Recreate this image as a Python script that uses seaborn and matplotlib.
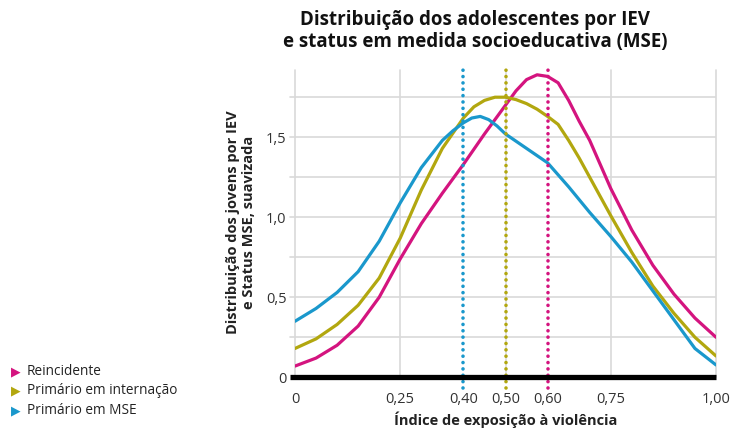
import matplotlib
matplotlib.use("Agg")
import matplotlib.pyplot as plt
import seaborn as sns
import pandas as pd

# ---- data ----
series_names = ["Reincidente", "Primário em internação", "Primário em MSE"]
colors = ["#D4147F", "#B2A70F", "#1A98CC"]

x_reinc = [0, 0.05, 0.10, 0.15, 0.20, 0.25, 0.30, 0.35, 0.40, 0.45, 0.50, 0.525, 0.55,
           0.575, 0.60, 0.625, 0.65, 0.675, 0.70, 0.725, 0.75, 0.775, 0.80, 0.85,
           0.90, 0.95, 1.00]
y_reinc = [0.07, 0.12, 0.20, 0.32, 0.50, 0.74, 0.96, 1.15, 1.33, 1.52, 1.70, 1.79, 1.86,
           1.89, 1.88, 1.84, 1.73, 1.60, 1.48, 1.33, 1.18, 1.05, 0.92, 0.70,
           0.52, 0.37, 0.25]

x_intern = [0, 0.05, 0.10, 0.15, 0.20, 0.25, 0.30, 0.35, 0.40, 0.425, 0.45, 0.475, 0.50,
            0.525, 0.55, 0.575, 0.60, 0.625, 0.65, 0.675, 0.70, 0.75, 0.80, 0.85,
            0.90, 0.95, 1.00]
y_intern = [0.18, 0.24, 0.33, 0.45, 0.62, 0.87, 1.17, 1.43, 1.62, 1.69, 1.73, 1.75, 1.75,
            1.735, 1.71, 1.675, 1.63, 1.58, 1.48, 1.37, 1.25, 1.01, 0.78, 0.57,
            0.40, 0.25, 0.133]

x_mse = [0, 0.05, 0.10, 0.15, 0.20, 0.25, 0.30, 0.35, 0.375, 0.40, 0.42, 0.44, 0.46,
         0.48, 0.50, 0.55, 0.60, 0.65, 0.70, 0.75, 0.80, 0.85, 0.90, 0.95, 1.00]
y_mse = [0.35, 0.43, 0.53, 0.66, 0.85, 1.09, 1.31, 1.48, 1.54, 1.59, 1.62, 1.63, 1.61,
         1.57, 1.52, 1.43, 1.34, 1.19, 1.03, 0.88, 0.72, 0.54, 0.36, 0.18, 0.077]

means = [0.60, 0.50, 0.40]

x_ticks = [0, 0.25, 0.40, 0.50, 0.60, 0.75, 1.00]
x_tick_labels = ["0", "0,25", "0,40", "0,50", "0,60", "0,75", "1,00"]
y_ticks = [0, 0.5, 1.0, 1.5]
y_tick_labels = ["0", "0,5", "1,0", "1,5"]

title = "Distribuição dos adolescentes por IEV\ne status em medida socioeducativa (MSE)"
ylabel = "Distribuição dos jovens por IEV\ne Status MSE, suavizada"
xlabel = "Índice de exposição à violência"

# ---- build table ----
frames = []
for name, xs, ys in zip(series_names, [x_reinc, x_intern, x_mse], [y_reinc, y_intern, y_mse]):
    frames.append(pd.DataFrame({"x": xs, "y": ys, "grupo": name}))
df = pd.concat(frames, ignore_index=True)

sns.set_theme(style="white")
plt.rcParams["font.family"] = ["Open Sans", "DejaVu Sans"]

W, H = 733, 428
fig = plt.figure(figsize=(W / 100, H / 100), dpi=100)
ax_l, ax_r, ax_t, ax_b = 295, 716, 70, 388
ax = fig.add_axes([ax_l / W, 1 - ax_b / H, (ax_r - ax_l) / W, (ax_b - ax_t) / H])

ylo, yhi = -0.067, 1.92
ax.set_xlim(0, 1)
ax.set_ylim(ylo, yhi)

# grid
grid_c = "#d9d9d9"
for gy in [0.25, 0.5, 0.75, 1.0, 1.25, 1.5, 1.75]:
    ax.plot([0, 1], [gy, gy], color=grid_c, lw=1.2, zorder=0.5, solid_capstyle="butt")
for gx in [0, 0.25, 0.5, 0.75, 1.0]:
    ax.plot([gx, gx], [0, yhi], color=grid_c, lw=1.2, zorder=0.5, clip_on=False)

# y ticks (small grey marks at every 0.25)
for gy in [0.25, 0.5, 0.75, 1.0, 1.25, 1.5, 1.75]:
    ax.plot([-0.012, 0], [gy, gy], color=grid_c, lw=1.2, clip_on=False, zorder=0.5)

sns.lineplot(data=df, x="x", y="y", hue="grupo", palette=colors,
             hue_order=series_names, sort=False, lw=2.3, legend=False, ax=ax, zorder=3)
for ln in ax.get_lines()[-3:]:
    ln.set_solid_joinstyle("round")

# mean lines (dotted)
for m, c in zip(means, colors):
    ax.plot([m, m], [ylo, yhi], color=c, lw=2.6, linestyle=(0, (0.01, 1.75)),
            dash_capstyle="round", zorder=4, clip_on=False)

# baseline
ax.plot([-0.012, 1], [0, 0], color="black", lw=3.8, solid_capstyle="butt",
        zorder=5, clip_on=False)

for s in ax.spines.values():
    s.set_visible(False)

ax.set_xticks(x_ticks)
ax.set_xticklabels(x_tick_labels)
ax.set_yticks(y_ticks)
ax.set_yticklabels(y_tick_labels)
ax.tick_params(axis="both", length=0, labelsize=10.5, colors="#333333")
ax.tick_params(axis="x", pad=3)
ax.tick_params(axis="y", pad=6)
ax.set_xlabel("")
ax.set_ylabel("")

fig.text(506 / W, 1 - 420 / H, xlabel, ha="center", va="center",
         fontsize=10.5, fontweight="bold", color="#222222")
fig.text(241 / W, 1 - 222 / H, ylabel, ha="center", va="center", rotation=90,
         fontsize=10.5, fontweight="bold", color="#222222", linespacing=1.15)
fig.text(475 / W, 1 - 31 / H, title, ha="center", va="center",
         fontsize=13.5, fontweight="bold", color="#111111", linespacing=1.1)

# legend
rows = [371.5, 391, 411]
for name, c, ry in zip(series_names, colors, rows):
    fig.text(16 / W, 1 - ry / H, "▶", color=c, ha="center", va="center",
             fontsize=9, family=["DejaVu Sans"])
    fig.text(27 / W, 1 - ry / H, name, color="#222222", ha="left", va="center",
             fontsize=9.8)

fig.savefig("out.png", dpi=100)
